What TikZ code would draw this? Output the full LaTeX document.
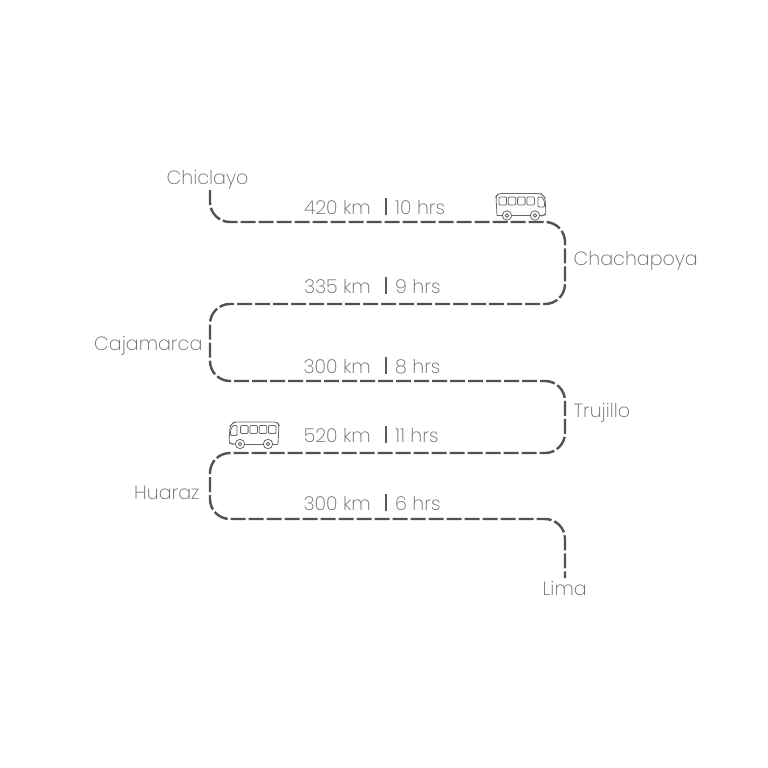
\documentclass[tikz,border=0pt]{standalone}
\usepackage{fontspec}
\setmainfont{Poppins ExtraLight}
\definecolor{routegreen}{HTML}{4C574A}
\definecolor{labelgrey}{HTML}{6A6A6A}
\definecolor{sepgrey}{HTML}{5E5A55}
\definecolor{busgrey}{HTML}{666B64}
\tikzset{
  place/.style={text=labelgrey,font=\fontsize{19.1}{21}\selectfont,inner sep=0pt,anchor=base west},
  dist/.style={text=labelgrey,font=\fontsize{19.1}{21}\selectfont,inner sep=0pt,anchor=base east},
  hrs/.style={text=labelgrey,font=\fontsize{19.1}{21}\selectfont,inner sep=0pt,anchor=base west},
  route/.style={draw=routegreen,line width=2.4pt,rounded corners=20pt,dash pattern=on 15pt off 3pt},
  sep/.style={draw=sepgrey,line width=2pt},
  buspart/.style={draw=busgrey,line width=0.8pt,fill=none},
  bus/.pic={
    \draw[buspart,rounded corners=3pt] (-24,7) -- (-25,-12) -- (-23,-15) -- (20,-15) -- (24,-11) -- (25,6) -- (22,7) -- (18.5,7);
    \draw[buspart] (9.5,7) -- (-9.5,7) (-18.5,7) -- (-24,7);
    \foreach \x in {-22,-12.7,-3.4,5.9}
      \draw[buspart,rounded corners=1pt] (\x,-11.5) rectangle ++(7.5,8);
    \draw[buspart,rounded corners=1pt] (17,-11.5) -- (21,-11.5) -- (23.5,-7) -- (23.5,-1.5) -- (17,-1.5) -- cycle;
    \foreach \x in {-14,14}{
      \draw[buspart] (\x,7) circle (4.7);
      \draw[buspart] (\x,7) circle (1.8);
    }
  },
}
\begin{document}
\begin{tikzpicture}[x=1pt,y=-1pt]
\useasboundingbox (0,0) rectangle (768,768);
\fill[white] (0,0) rectangle (768,768);
\node[place] (chiclayo) at (166.5,184) {Chiclayo};
\node[place] (chacha) at (573.5,265) {Chachapoya};
\node[place] (caja) at (94,350) {Cajamarca};
\node[place] (truj) at (573.5,417) {Trujillo};
\node[place] (huaraz) at (134,499) {Huaraz};
\node[place] (lima) at (542.5,595) {Lima};
\coordinate (start) at (210,190);
\coordinate (end) at (565,578);
\draw[route] (start) -- (210,222) -- (565,222) -- (565,304) -- (210,304) -- (210,381) -- (565,381) -- (565,453) -- (210,453) -- (210,519) -- (565,519) -- (end);
\foreach \n/\y/\d/\h in {a/214/420 km/10 hrs,b/293/335 km/9 hrs,c/373/300 km/8 hrs,d/442/520 km/11 hrs,e/510/300 km/6 hrs}{
  \node[dist] (dist\n) at (371,\y) {\d};
  \node[hrs] (hrs\n) at (395,\y) {\h};
  \draw[sep] (386,\y-16) -- (386,\y+1);
}
\pic at (521,208.5) {bus};
\pic[xscale=-1] at (254,437) {bus};
\end{tikzpicture}
\end{document}
